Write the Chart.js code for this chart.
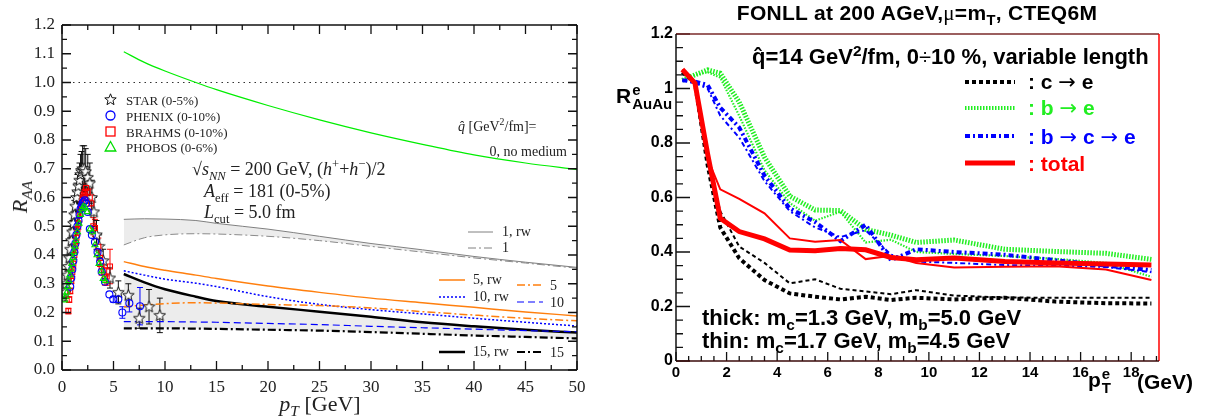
<!DOCTYPE html>
<html>
<head>
<meta charset="utf-8">
<script src="https://cdn.jsdelivr.net/npm/chart.js@4.4.1/dist/chart.umd.min.js"></script>
<style>
  body { margin: 0; background: #fff; }
  #page { position: relative; width: 1205px; height: 419px; overflow: hidden; }
  canvas { position: absolute; top: 0; }
  .t { position: absolute; white-space: nowrap; line-height: 1; transform: translateY(-50%); }
  .rm { font-family: "Liberation Serif", "DejaVu Serif", serif; color: #222; }
  .bf { font-family: "Liberation Sans", Arial, sans-serif; font-weight: bold; color: #000; }
  .sym { font-weight: normal; }
  .arr { font-family: "DejaVu Sans", sans-serif; font-weight: normal; }
  sub, sup { line-height: 0; font-size: 70%; }
  svg { position: absolute; overflow: visible; }
</style>
</head>
<body>
<div id="page">
  <canvas id="left" width="600" height="419" style="left:0"></canvas>
  <canvas id="right" width="605" height="419" style="left:600px"></canvas>

  <!-- left panel texts -->
  <div class="rm" style="position:absolute;left:20px;top:197px;transform:translate(-50%,-50%) rotate(-90deg);font-size:22px;white-space:nowrap"><i>R</i><sub><i>AA</i></sub></div>
  <div class="rm" style="position:absolute;left:320px;top:404px;transform:translate(-50%,-50%);font-size:22px;white-space:nowrap"><i>p</i><sub><i>T</i></sub> [GeV]</div>

  <svg style="left:104px;top:93px" width="13" height="13"><polygon points="6.5,0.8 8.03,4.7 12.21,4.95 8.97,7.6 10.03,11.65 6.5,9.4 2.97,11.65 4.03,7.6 0.79,4.95 4.97,4.7" fill="#fff" stroke="#111" stroke-width="1"/></svg>
  <svg style="left:104px;top:109px" width="13" height="13"><circle cx="6.5" cy="6.5" r="4.5" fill="none" stroke="#0000ff" stroke-width="1.3"/></svg>
  <svg style="left:104px;top:125px" width="13" height="13"><rect x="2" y="2" width="9" height="9" fill="none" stroke="#ff0000" stroke-width="1.3"/></svg>
  <svg style="left:104px;top:140px" width="13" height="13"><polygon points="6.5,1.5 11.8,11 1.2,11" fill="none" stroke="#00dd00" stroke-width="1.3"/></svg>
  <div class="t rm" style="left:126px;top:100px;font-size:13px">STAR (0-5%)</div>
  <div class="t rm" style="left:126px;top:116px;font-size:13px">PHENIX (0-10%)</div>
  <div class="t rm" style="left:126px;top:132px;font-size:13px">BRAHMS (0-10%)</div>
  <div class="t rm" style="left:126px;top:147px;font-size:13px">PHOBOS (0-6%)</div>

  <div class="t rm" style="left:192px;top:169px;font-size:18px">&radic;<i>s</i><sub><i>NN</i></sub> = 200 GeV, (<i>h</i><sup>+</sup>+<i>h</i><sup>&minus;</sup>)/2</div>
  <div class="t rm" style="left:204px;top:191px;font-size:18px"><i>A</i><sub>eff</sub> = 181 (0-5%)</div>
  <div class="t rm" style="left:204px;top:212px;font-size:18px"><i>L</i><sub>cut</sub> = 5.0 fm</div>

  <div class="t rm" style="left:458px;top:127px;font-size:14px"><i>q&#770;</i> [GeV<sup>2</sup>/fm]=</div>
  <div class="t rm" style="right:638px;top:152px;font-size:14px">0, no medium</div>

  <svg style="left:468px;top:232px" width="26" height="1"><line x1="0" y1="0" x2="25" y2="0" stroke="#808080" stroke-width="1"/></svg>
  <div class="t rm" style="left:502px;top:232px;font-size:14px">1, rw</div>
  <svg style="left:468px;top:248px" width="26" height="1"><line x1="0" y1="0" x2="25" y2="0" stroke="#808080" stroke-width="1" stroke-dasharray="8 3 2 3"/></svg>
  <div class="t rm" style="left:502px;top:248px;font-size:14px">1</div>
  <svg style="left:439px;top:280px" width="27" height="1"><line x1="0" y1="0" x2="26" y2="0" stroke="#ff7f0e" stroke-width="1.5"/></svg>
  <div class="t rm" style="left:473px;top:280px;font-size:14px">5, rw</div>
  <svg style="left:517px;top:285px" width="27" height="1"><line x1="0" y1="0" x2="26" y2="0" stroke="#ff7f0e" stroke-width="1.5" stroke-dasharray="8 3 2 3"/></svg>
  <div class="t rm" style="left:550px;top:286px;font-size:14px">5</div>
  <svg style="left:439px;top:297px" width="27" height="1"><line x1="0" y1="0" x2="26" y2="0" stroke="#0000ff" stroke-width="1.5" stroke-dasharray="2 2"/></svg>
  <div class="t rm" style="left:473px;top:297px;font-size:14px">10, rw</div>
  <svg style="left:517px;top:302px" width="27" height="1"><line x1="0" y1="0" x2="26" y2="0" stroke="#0000ff" stroke-width="1.2" stroke-dasharray="7 4"/></svg>
  <div class="t rm" style="left:550px;top:303px;font-size:14px">10</div>
  <svg style="left:439px;top:352px" width="27" height="1"><line x1="0" y1="0" x2="26" y2="0" stroke="#000" stroke-width="2.5"/></svg>
  <div class="t rm" style="left:473px;top:352px;font-size:14px">15, rw</div>
  <svg style="left:517px;top:352px" width="27" height="1"><line x1="0" y1="0" x2="26" y2="0" stroke="#000" stroke-width="2.2" stroke-dasharray="8 3 2 3"/></svg>
  <div class="t rm" style="left:550px;top:353px;font-size:14px">15</div>

  <!-- right panel texts -->
  <div class="bf" style="position:absolute;left:917px;top:13px;transform:translate(-50%,-50%);font-size:21px;letter-spacing:0.3px;white-space:nowrap;line-height:1">FONLL at 200 AGeV,<span class="sym" style="font-family:'Liberation Serif',serif">&mu;</span>=m<sub>T</sub>, CTEQ6M</div>
  <div class="t bf" style="left:752px;top:57px;font-size:22px">q&#770;=14 GeV<sup>2</sup>/fm, 0<span class="sym">&divide;</span>10 %, variable length</div>

  <svg style="left:965px;top:82px" width="51" height="1"><line x1="0" y1="0" x2="50" y2="0" stroke="#000" stroke-width="4" stroke-dasharray="4 3"/></svg>
  <div class="t bf" style="left:1028px;top:82px;font-size:21px">: c <span class="arr">&rarr;</span> e</div>
  <svg style="left:965px;top:108px" width="51" height="1"><line x1="0" y1="0" x2="50" y2="0" stroke="#22ee22" stroke-width="4" stroke-dasharray="1.5 1.5"/></svg>
  <div class="t bf" style="left:1028px;top:108px;font-size:21px;color:#22ee22">: b <span class="arr">&rarr;</span> e</div>
  <svg style="left:965px;top:136px" width="51" height="1"><line x1="0" y1="0" x2="50" y2="0" stroke="#0000ff" stroke-width="4" stroke-dasharray="5 3 2 3"/></svg>
  <div class="t bf" style="left:1028px;top:137px;font-size:21px;color:#0000ff">: b <span class="arr">&rarr;</span> c <span class="arr">&rarr;</span> e</div>
  <svg style="left:965px;top:163px" width="51" height="1"><line x1="0" y1="0" x2="50" y2="0" stroke="#ff0000" stroke-width="5"/></svg>
  <div class="t bf" style="left:1028px;top:163px;font-size:21px;color:#ff0000">: total</div>

  <div class="t bf" style="left:702px;top:318px;font-size:22px">thick: m<sub>c</sub>=1.3 GeV, m<sub>b</sub>=5.0 GeV</div>
  <div class="t bf" style="left:702px;top:341px;font-size:22px">thin: m<sub>c</sub>=1.7 GeV, m<sub>b</sub>=4.5 GeV</div>

  <div class="t bf" style="left:616px;top:97px;font-size:21px">R<span style="display:inline-block;vertical-align:middle;line-height:0.95;font-size:15px;margin-left:1px"><span style="display:block">e</span><span style="display:block">AuAu</span></span></div>
  <div class="t bf" style="left:1088px;top:381px;font-size:21px">p<span style="display:inline-block;vertical-align:middle;line-height:0.95;font-size:15px;margin-left:1px"><span style="display:block">e</span><span style="display:block">T</span></span></div>
  <div class="t bf" style="left:1137px;top:381px;font-size:21px">(GeV)</div>
</div>

<script>
/* LEFT PANEL: hadron R_AA vs pT */
const ptTheory = [6, 8, 10, 13, 15, 20, 25, 30, 35, 40, 45, 50];
const noMedium = [1.107, 1.07, 1.04, 1.0, 0.975, 0.92, 0.87, 0.825, 0.785, 0.748, 0.72, 0.697];
const q1rw = [0.524, 0.526, 0.525, 0.52, 0.51, 0.49, 0.465, 0.44, 0.418, 0.395, 0.375, 0.357];
const q1 = [0.435, 0.46, 0.47, 0.474, 0.473, 0.465, 0.45, 0.43, 0.41, 0.39, 0.372, 0.354];
const q5rw = [0.377, 0.36, 0.347, 0.33, 0.318, 0.292, 0.27, 0.25, 0.234, 0.218, 0.202, 0.188];
const q5 = [0.22, 0.226, 0.231, 0.234, 0.233, 0.228, 0.224, 0.216, 0.203, 0.191, 0.18, 0.171];
const q10rw = [0.345, 0.33, 0.316, 0.302, 0.29, 0.255, 0.228, 0.21, 0.195, 0.18, 0.166, 0.153];
const q10 = [0.168, 0.168, 0.168, 0.167, 0.166, 0.162, 0.158, 0.152, 0.147, 0.142, 0.137, 0.133];
const q15rw = [0.334, 0.305, 0.281, 0.255, 0.24, 0.22, 0.203, 0.185, 0.166, 0.152, 0.14, 0.13];
const q15 = [0.145, 0.145, 0.145, 0.144, 0.143, 0.14, 0.137, 0.132, 0.126, 0.12, 0.115, 0.11];
const unityX = [0, 50];
const unityY = [1, 1];

const starPt = [0.3, 0.4, 0.5, 0.6, 0.7, 0.8, 0.9, 1.0, 1.1, 1.2, 1.3, 1.4, 1.5, 1.6, 1.7, 1.8, 1.9, 2.0, 2.15, 2.3, 2.5, 2.7, 2.9, 3.1, 3.35, 3.6, 4.0, 4.66, 5.47, 6.44, 7.5, 8.45, 9.5];
const starRaa = [0.27, 0.3, 0.33, 0.36, 0.39, 0.42, 0.45, 0.48, 0.51, 0.54, 0.57, 0.6, 0.62, 0.64, 0.66, 0.68, 0.69, 0.7, 0.7, 0.69, 0.67, 0.65, 0.6, 0.55, 0.47, 0.43, 0.38, 0.32, 0.27, 0.26, 0.18, 0.22, 0.19];
const starErr = [0.03, 0.03, 0.03, 0.03, 0.03, 0.04, 0.04, 0.04, 0.04, 0.05, 0.05, 0.05, 0.06, 0.06, 0.06, 0.07, 0.07, 0.08, 0.08, 0.08, 0.08, 0.07, 0.06, 0.05, 0.05, 0.04, 0.04, 0.035, 0.04, 0.04, 0.035, 0.06, 0.06];

const phenixPt = [0.8, 0.9, 1.0, 1.1, 1.2, 1.3, 1.4, 1.5, 1.6, 1.7, 1.8, 1.9, 2.0, 2.1, 2.2, 2.35, 2.5, 2.7, 2.9, 3.2, 3.45, 3.7, 3.85, 4.17, 4.6, 4.98, 5.47, 5.86, 6.54, 7.57];
const phenixRaa = [0.29, 0.32, 0.35, 0.38, 0.41, 0.44, 0.47, 0.5, 0.52, 0.54, 0.56, 0.57, 0.58, 0.585, 0.59, 0.58, 0.55, 0.49, 0.47, 0.445, 0.41, 0.377, 0.342, 0.307, 0.263, 0.246, 0.246, 0.2, 0.232, 0.222];
const phenixErr = [0, 0, 0, 0, 0, 0, 0, 0, 0, 0, 0, 0, 0, 0, 0, 0, 0, 0, 0, 0, 0, 0, 0, 0, 0, 0.01, 0.01, 0.02, 0.03, 0.065];

const brahmsPt = [0.62, 0.7, 0.8, 0.9, 1.0, 1.1, 1.2, 1.3, 1.4, 1.5, 1.6, 1.7, 1.8, 1.9, 2.0, 2.1, 2.2, 2.33, 2.5, 2.7, 2.85, 3.04, 3.2, 3.53, 3.69, 3.85, 4.17, 4.34, 4.66];
const brahmsRaa = [0.205, 0.245, 0.275, 0.31, 0.34, 0.37, 0.4, 0.43, 0.46, 0.49, 0.51, 0.54, 0.56, 0.58, 0.6, 0.61, 0.62, 0.633, 0.62, 0.6, 0.58, 0.5, 0.494, 0.429, 0.39, 0.36, 0.325, 0.325, 0.36];
const brahmsErr = [0.01, 0.01, 0.01, 0.01, 0.015, 0.015, 0.015, 0.02, 0.02, 0.02, 0.02, 0.025, 0.025, 0.025, 0.03, 0.03, 0.03, 0.03, 0.03, 0.03, 0.03, 0.03, 0.03, 0.03, 0.03, 0.03, 0.03, 0.03, 0.06];

const phobosPt = [0.25, 0.35, 0.45, 0.55, 0.65, 0.75, 0.85, 0.95, 1.05, 1.15, 1.25, 1.35, 1.5, 1.65, 1.8, 1.95, 2.07, 2.25, 2.45, 2.72, 2.95, 3.2, 3.4, 3.6, 3.85, 4.0, 4.2];
const phobosRaa = [0.243, 0.255, 0.27, 0.29, 0.31, 0.33, 0.35, 0.37, 0.39, 0.41, 0.43, 0.45, 0.48, 0.51, 0.54, 0.56, 0.568, 0.565, 0.55, 0.49, 0.48, 0.435, 0.4, 0.37, 0.344, 0.318, 0.31];

/* RIGHT PANEL: electron R_AuAu vs pT */
const ptE = [0.25, 0.75, 1.25, 1.75, 2.5, 3.5, 4.5, 5.5, 6.5, 7.5, 8.5, 9.5, 11, 13, 15, 17, 18.8];
const totalThick = [1.07, 1.02, 0.76, 0.524, 0.475, 0.448, 0.407, 0.405, 0.413, 0.408, 0.38, 0.372, 0.378, 0.365, 0.36, 0.356, 0.352];
const totalThin = [1.07, 1.02, 0.744, 0.63, 0.595, 0.542, 0.45, 0.438, 0.444, 0.374, 0.386, 0.36, 0.343, 0.346, 0.348, 0.336, 0.297];
const bceThick = [1.03, 1.025, 1.013, 0.93, 0.857, 0.68, 0.56, 0.51, 0.44, 0.5, 0.37, 0.41, 0.4, 0.39, 0.37, 0.35, 0.334];
const bceThin = [1.03, 1.02, 1.0, 0.9, 0.82, 0.66, 0.55, 0.49, 0.455, 0.48, 0.39, 0.365, 0.36, 0.352, 0.35, 0.345, 0.326];
const beThick = [1.03, 1.05, 1.068, 1.056, 0.95, 0.748, 0.605, 0.554, 0.552, 0.483, 0.462, 0.435, 0.444, 0.41, 0.402, 0.395, 0.373];
const beThin = [1.03, 1.05, 1.06, 1.04, 0.9, 0.7, 0.58, 0.515, 0.548, 0.435, 0.445, 0.4, 0.393, 0.385, 0.375, 0.36, 0.309];
const ceThick = [1.06, 1.02, 0.72, 0.49, 0.377, 0.297, 0.248, 0.236, 0.226, 0.236, 0.224, 0.232, 0.226, 0.232, 0.218, 0.212, 0.211];
const ceThin = [1.06, 1.02, 0.74, 0.55, 0.42, 0.36, 0.285, 0.3, 0.265, 0.255, 0.245, 0.26, 0.24, 0.233, 0.232, 0.232, 0.232];

/* UTILS */
const xy = (xs, ys) => xs.map((x, i) => ({ x, y: ys[i] }));
const SERIF = "'Liberation Serif', 'DejaVu Serif', serif";
const SANS = "'Liberation Sans', Arial, sans-serif";

function starImage() {
  const c = document.createElement("canvas");
  c.width = c.height = 13;
  const g = c.getContext("2d");
  g.beginPath();
  for (let i = 0; i < 10; i++) {
    const r = i % 2 ? 2.6 : 6, a = -Math.PI / 2 + i * Math.PI / 5;
    g.lineTo(6.5 + r * Math.cos(a), 6.8 + r * Math.sin(a));
  }
  g.closePath();
  g.fillStyle = "#fff"; g.fill();
  g.strokeStyle = "#111"; g.lineWidth = 1; g.stroke();
  return c;
}

const errorBars = {
  id: "errorBars",
  beforeDatasetsDraw(chart) {
    const { ctx, scales: { x, y } } = chart;
    chart.data.datasets.forEach(ds => {
      if (!ds.err) return;
      ctx.save();
      ctx.strokeStyle = ds.borderColor;
      ctx.lineWidth = 1;
      ctx.beginPath();
      ds.data.forEach((p, i) => {
        const e = ds.err[i];
        if (!e) return;
        const px = x.getPixelForValue(p.x);
        const lo = y.getPixelForValue(p.y - e), hi = y.getPixelForValue(p.y + e);
        ctx.moveTo(px, lo); ctx.lineTo(px, hi);
        ctx.moveTo(px - 3, lo); ctx.lineTo(px + 3, lo);
        ctx.moveTo(px - 3, hi); ctx.lineTo(px + 3, hi);
      });
      ctx.stroke();
      ctx.restore();
    });
  }
};

// axis frame with inward ticks
function frame(o) {
  return {
    id: "frame",
    afterDatasetsDraw(chart) {
      const { ctx, chartArea: a, scales: { x, y } } = chart;
      ctx.save();
      ctx.strokeStyle = o.tickColor;
      ctx.lineWidth = o.tickWidth;
      ctx.beginPath();
      for (let i = 0; i * o.xMinor <= x.max + 1e-9; i++) {
        const v = i * o.xMinor;
        const len = Math.abs(v / o.xMajor - Math.round(v / o.xMajor)) < 1e-6 ? o.xLen[0] : o.xLen[1];
        const px = x.getPixelForValue(v);
        ctx.moveTo(px, a.bottom); ctx.lineTo(px, a.bottom - len);
        if (o.all) { ctx.moveTo(px, a.top); ctx.lineTo(px, a.top + len); }
      }
      for (let i = 0; i * o.yMinor <= y.max + 1e-9; i++) {
        const v = i * o.yMinor;
        const len = Math.abs(v / o.yMajor - Math.round(v / o.yMajor)) < 1e-6 ? o.yLen[0] : o.yLen[1];
        const py = y.getPixelForValue(v);
        ctx.moveTo(a.left, py); ctx.lineTo(a.left + len, py);
        if (o.all) { ctx.moveTo(a.right, py); ctx.lineTo(a.right - len, py); }
      }
      ctx.stroke();
      const side = (c, w, x1, y1, x2, y2) => {
        ctx.strokeStyle = c; ctx.lineWidth = w;
        ctx.beginPath(); ctx.moveTo(x1, y1); ctx.lineTo(x2, y2); ctx.stroke();
      };
      side(o.border.top, o.borderWidth, a.left, a.top, a.right, a.top);
      side(o.border.right, o.borderWidth, a.right, a.top, a.right, a.bottom);
      side(o.border.bottom, o.borderWidth, a.left, a.bottom, a.right, a.bottom);
      side(o.border.left, o.borderWidth, a.left, a.top, a.left, a.bottom);
      ctx.restore();
    }
  };
}

/* LEFT CHART */
const theory = (ys, color, width, dash, extra) => Object.assign({
  data: xy(ptTheory, ys), borderColor: color, borderWidth: width, borderDash: dash,
  pointRadius: 0, fill: false, cubicInterpolationMode: "monotone"
}, extra || {});
const marks = (xs, ys, errs, style, color, r) => ({
  data: xy(xs, ys), err: errs, showLine: false, pointStyle: style, pointRadius: r,
  borderColor: color, pointBorderColor: color, pointBackgroundColor: "rgba(255,255,255,0)", pointBorderWidth: 1.1
});
const DASHDOT = [8, 3, 2, 3];

new Chart(document.getElementById("left"), {
  type: "line",
  data: {
    datasets: [
      marks(phobosPt, phobosRaa, null, "triangle", "#00dd00", 3.5),
      marks(phenixPt, phenixRaa, phenixErr, "circle", "#0000ff", 3.5),
      marks(brahmsPt, brahmsRaa, brahmsErr, "rect", "#ff0000", 3.5),
      marks(starPt, starRaa, starErr, starImage(), "#111", 4),
      theory(noMedium, "#00ee00", 1.2, []),
      theory(q1rw, "#808080", 1, [], { fill: "+1", backgroundColor: "#ececec" }),
      theory(q1, "#8a8a8a", 1, DASHDOT),
      theory(q5rw, "#ff7f0e", 1.5, []),
      theory(q5, "#ff7f0e", 1.5, DASHDOT),
      theory(q10rw, "#0000ff", 1.5, [2, 2]),
      theory(q10, "#0000ff", 1.2, [7, 4]),
      theory(q15rw, "#000", 2.5, [], { fill: "+1", backgroundColor: "#ececec" }),
      theory(q15, "#000", 2.2, DASHDOT),
      { data: xy(unityX, unityY), borderColor: "#333", borderWidth: 1.2, borderDash: [1.5, 4], pointRadius: 0, fill: false }
    ]
  },
  options: {
    responsive: false, animation: false, devicePixelRatio: 1,
    layout: { padding: { top: 25, right: 23, left: 0, bottom: 0 } },
    plugins: { legend: { display: false }, tooltip: { enabled: false }, filler: { drawTime: "beforeDatasetsDraw" } },
    scales: {
      x: {
        type: "linear", min: 0, max: 50,
        grid: { display: false, drawTicks: false }, border: { display: false },
        ticks: { stepSize: 5, autoSkip: false, maxRotation: 0, padding: 7, color: "#222", font: { family: SERIF, size: 17 } },
        afterFit: s => { s.height = 49; }
      },
      y: {
        min: 0, max: 1.2,
        grid: { display: false, drawTicks: false }, border: { display: false },
        ticks: { stepSize: 0.1, autoSkip: false, padding: 7, color: "#222", font: { family: SERIF, size: 17 }, callback: v => v.toFixed(1) },
        afterFit: s => { s.width = 62; }
      }
    }
  },
  plugins: [errorBars, frame({
    xMajor: 5, xMinor: 2.5, yMajor: 0.1, yMinor: 0.05, xLen: [9, 5], yLen: [9, 5], all: true,
    tickColor: "#111", tickWidth: 1.3, borderWidth: 1.5,
    border: { top: "#111", right: "#111", bottom: "#111", left: "#111" }
  })]
});

/* RIGHT CHART */
const eLine = (ys, color, width, dash) => ({
  data: xy(ptE, ys), borderColor: color, borderWidth: width, borderDash: dash,
  pointRadius: 0, fill: false, tension: 0
});

new Chart(document.getElementById("right"), {
  type: "line",
  data: {
    datasets: [
      eLine(totalThick, "#ff0000", 5, []),
      eLine(totalThin, "#ff0000", 2, []),
      eLine(bceThick, "#0000ff", 4, [5, 3, 2, 3]),
      eLine(bceThin, "#0000ff", 2, [5, 3, 2, 3]),
      eLine(beThick, "#22ee22", 5, [1.5, 1.5]),
      eLine(beThin, "#22ee22", 2.2, [1.5, 1.5]),
      eLine(ceThick, "#000", 4, [4, 3]),
      eLine(ceThin, "#000", 2, [4, 3])
    ]
  },
  options: {
    responsive: false, animation: false, devicePixelRatio: 1,
    layout: { padding: { top: 34, right: 46, left: 0, bottom: 0 } },
    plugins: { legend: { display: false }, tooltip: { enabled: false } },
    scales: {
      x: {
        type: "linear", min: 0, max: 19.1,
        grid: { display: false, drawTicks: false }, border: { display: false },
        ticks: { stepSize: 2, includeBounds: false, autoSkip: false, maxRotation: 0, padding: 3, color: "#000", font: { family: SANS, size: 15, weight: "bold" } },
        afterFit: s => { s.height = 58; }
      },
      y: {
        min: 0, max: 1.2,
        grid: { display: false, drawTicks: false }, border: { display: false },
        ticks: { stepSize: 0.2, autoSkip: false, padding: 3, color: "#000", font: { family: SANS, size: 16, weight: "bold" }, callback: v => String(Math.round(v * 10) / 10) },
        afterFit: s => { s.width = 76; }
      }
    }
  },
  plugins: [frame({
    xMajor: 2, xMinor: 0.5, yMajor: 0.2, yMinor: 0.05, xLen: [9, 5], yLen: [14, 7], all: false,
    tickColor: "#111", tickWidth: 1.3, borderWidth: 1.5,
    border: { top: "#7a2a2a", right: "#ff0000", bottom: "#3a0a0a", left: "#111" }
  })]
});
</script>
</body>
</html>
